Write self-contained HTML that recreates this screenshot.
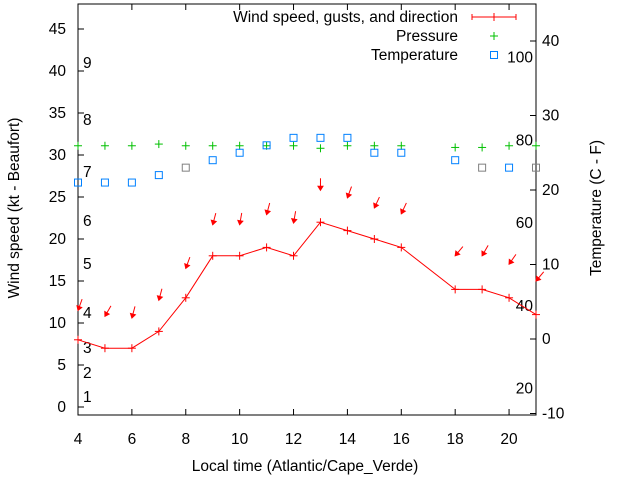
<!DOCTYPE html>
<html><head><meta charset="utf-8"><style>
body{margin:0;background:#fff}
svg{display:block;font-family:"Liberation Sans",sans-serif}
</style></head><body>
<svg id="c" width="640" height="480">
<rect width="640" height="480" fill="#fff"/>
</svg>
<script>
const hours=[4,5,6,7,8,9,10,11,12,13,14,15,16,18,19,20,21];
const windKt=[8,7,7,9,13,18,18,19,18,22,21,20,19,14,14,13,11];
const gustKt=[11.5,10.8,10.6,12.7,16.5,21.7,21.7,22.9,21.9,25.8,24.9,23.7,23,18,18,17,15];
const windDir=[20,30,15,15,20,15,10,15,10,0,20,25,25,40,30,35,40];
const pHours=[4,5,6,7,8,9,10,11,12,13,14,15,16,18,19,20,21];
const pressure=[31.1,31.1,31.1,31.3,31.1,31.1,31.1,31.1,31.1,30.8,31.1,31.1,31.1,30.9,30.9,31.1,31.1];
const tHours=[4,5,6,7,8,9,10,11,12,13,14,15,16,18,19,20,21];
const tempC=[21,21,21,22,23,24,25,26,27,27,27,25,25,24,23,23,23];
const tempGrey=[0,0,0,0,1,0,0,0,0,0,0,0,0,0,1,0,1];
const xTicks=[4,6,8,10,12,14,16,18,20];
const yTicks=[0,5,10,15,20,25,30,35,40,45];
const y2Ticks=[-10,0,10,20,30,40];
const beaufort=[[1,397],[2,373],[3,348],[4,313],[5,264],[6,221],[7,172],[8,120],[9,63]];
const fahr=[20,40,60,80,100];

const L=78,R=536,T=4,B=415;
const X=h=>L+(h-4)*(R-L)/17;
const Y=v=>407-v*8.4;
const Y2=c=>339-c*7.45;
const FS=15.5;
const svg=document.getElementById('c');
const NS='http://www.w3.org/2000/svg';
function mk(t,a,p){const e=document.createElementNS(NS,t);for(const k in a)e.setAttribute(k,a[k]);(p||svg).appendChild(e);return e;}
function txt(s,x,y,anchor,name,extra){const e=mk('text',Object.assign({x:x,y:y,'font-size':FS,'text-anchor':anchor,fill:'#000'},extra||{}));e.textContent=s;


return e;}

const fr=mk('rect',{x:L,y:T,width:R-L,height:B-T,fill:'none',stroke:'#000','stroke-width':1});


xTicks.forEach(h=>{
 mk('line',{x1:X(h),x2:X(h),y1:B,y2:B-6,stroke:'#000'});
 mk('line',{x1:X(h),x2:X(h),y1:T,y2:T+6,stroke:'#000'});
 txt(String(h),X(h),444,'middle','x-tick-label');
});
yTicks.forEach(v=>{
 mk('line',{x1:L,x2:L+6,y1:Y(v),y2:Y(v),stroke:'#000'});
 txt(String(v),66,Y(v)+5,'end','y-tick-label');
});
y2Ticks.forEach(c=>{
 mk('line',{x1:R,x2:R-6,y1:Y2(c),y2:Y2(c),stroke:'#000'});
 txt(String(c),542,Y2(c)+5,'start','y2-tick-label');
});
beaufort.forEach(b=>txt(String(b[0]),83,b[1]+5,'start','beaufort-label'));
fahr.forEach(f=>txt(String(f),533,Y2((f-32)*5/9)+5,'end','fahrenheit-label'));

txt('Local time (Atlantic/Cape_Verde)',305,471,'middle','x-axis-title');
txt('Wind speed (kt - Beaufort)',19,208,'middle','y-axis-title',{transform:'rotate(-90 19 208)'});
txt('Temperature (C - F)',601,208,'middle','y2-axis-title',{transform:'rotate(-90 601 208)'});

const pl=mk('polyline',{points:hours.map((h,i)=>X(h)+','+Y(windKt[i])).join(' '),fill:'none',stroke:'#f00','stroke-width':1});


hours.forEach((h,i)=>{
 const g=mk('g',{stroke:'#f00','stroke-width':1});
 
 
 const x=X(h),y=Y(windKt[i]);
 mk('line',{x1:x-4,x2:x+4,y1:y,y2:y},g);mk('line',{x1:x,x2:x,y1:y-4,y2:y+4},g);
});
hours.forEach((h,i)=>{
 const x=X(h),y=Y(gustKt[i]);const a=windDir[i]*Math.PI/180;
 const tx=x+12*Math.sin(a),ty=y-12*Math.cos(a);
 const g=mk('g',{stroke:'#f00',fill:'#f00','stroke-width':1});
 
 
 mk('line',{x1:tx,y1:ty,x2:x,y2:y},g);
 const ux=Math.sin(a),uy=-Math.cos(a),px=-uy,py=ux;
 mk('polygon',{points:`${x},${y} ${x+4*ux+2.5*px},${y+4*uy+2.5*py} ${x+4*ux-2.5*px},${y+4*uy-2.5*py}`},g);
});
pHours.forEach((h,i)=>{
 const x=X(h),y=Y(pressure[i]);
 const g=mk('g',{stroke:'#00c000','stroke-width':1});
 
 
 mk('line',{x1:x-4,x2:x+4,y1:y,y2:y},g);mk('line',{x1:x,x2:x,y1:y-4,y2:y+4},g);
});
tHours.forEach((h,i)=>{
 const r=mk('rect',{x:X(h)-3.5,y:Y2(tempC[i])-3.5,width:7,height:7,fill:'none',stroke:tempGrey[i]?'#808080':'#0080ff','stroke-width':1});
 
 
});
txt('Wind speed, gusts, and direction',458,22,'end','legend-wind-label');
txt('Pressure',458,41,'end','legend-pressure-label');
txt('Temperature',458,60,'end','legend-temperature-label');
mk('line',{x1:472,x2:516,y1:17,y2:17,stroke:'#f00'});
mk('line',{x1:472,x2:472,y1:14,y2:20,stroke:'#f00'});
mk('line',{x1:516,x2:516,y1:14,y2:20,stroke:'#f00'});
mk('line',{x1:494,x2:494,y1:13,y2:21,stroke:'#f00'});
mk('line',{x1:490,x2:498,y1:36,y2:36,stroke:'#00c000'});
mk('line',{x1:494,x2:494,y1:32,y2:40,stroke:'#00c000'});
mk('rect',{x:490.5,y:51.5,width:7,height:7,fill:'none',stroke:'#0080ff'});
</script>
</body></html>
